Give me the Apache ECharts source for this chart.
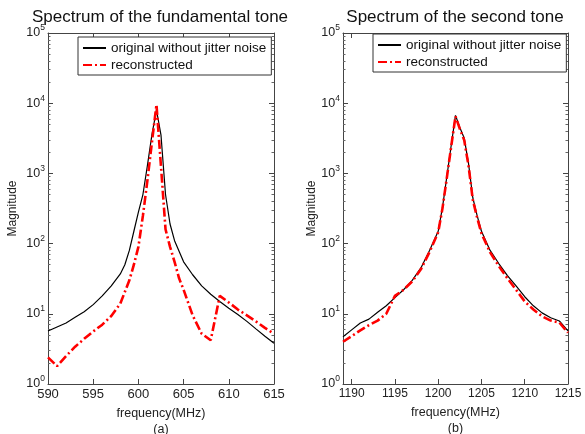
<!DOCTYPE html>
<html lang="en">
<head>
  <meta charset="UTF-8">
  <title>Spectrum</title>
  <script src="https://cdn.jsdelivr.net/npm/echarts@6/dist/echarts.min.js"></script>
  <style>
    html, body { margin: 0; padding: 0; background: #fff; }
    #chart { width: 585px; height: 434px; }
  </style>
</head>
<body>
  <div id="chart"></div>
<script>
  // (a) fundamental tone
  let freqA_orig = [590, 591, 592, 593, 594, 595, 596, 597, 598, 598.5, 599, 599.5, 600, 600.5, 601, 601.5, 602, 602.5, 603, 603.5, 604, 605, 606, 607, 608, 609, 610, 611, 612, 613, 614, 615]
  let magA_orig = [5.7, 6.5, 7.4, 8.9, 10.7, 13.5, 18, 25, 37, 50, 80, 150, 280, 500, 1300, 3600, 8000, 3500, 500, 190, 110, 55, 36, 25, 19, 15, 12, 9.8, 7.8, 6.1, 4.8, 3.8]
  let freqA_rec = [590, 591, 592, 593, 594, 595, 596, 597, 598, 599, 599.5, 600, 600.5, 601, 601.5, 602, 602.5, 603, 603.5, 604, 604.5, 605, 606, 607, 608, 609, 610, 611, 612, 613, 614, 615]
  let magA_rec = [2.4, 1.8, 2.5, 3.4, 4.4, 5.6, 7.0, 9.3, 14, 30, 50, 90, 250, 800, 2800, 9500, 1250, 160, 90, 55, 32, 22, 9.5, 5.2, 4.2, 18, 14.5, 11.5, 9.5, 7.8, 6.3, 5.2]

  // (b) second tone
  let freqB_orig = [1189, 1190, 1191, 1192, 1193, 1194, 1195, 1196, 1197, 1198, 1199, 1200, 1200.5, 1201, 1201.5, 1202, 1202.5, 1203, 1203.5, 1204, 1204.5, 1205, 1206, 1207, 1208, 1209, 1210, 1211, 1212, 1213, 1214, 1215]
  let magB_orig = [4.7, 5.9, 7.4, 8.4, 10.5, 13, 17, 22, 30, 45, 80, 150, 330, 900, 2500, 6700, 4500, 3200, 1400, 450, 250, 150, 80, 52, 35, 25, 17.5, 13, 10.3, 8.8, 7.9, 5.7]
  let freqB_rec = [1189, 1190, 1191, 1192, 1193, 1194, 1195, 1196, 1197, 1198, 1199, 1200, 1200.5, 1201, 1201.5, 1202, 1202.5, 1203, 1203.5, 1204, 1204.5, 1205, 1206, 1207, 1208, 1209, 1210, 1211, 1212, 1213, 1214, 1215]
  let magB_rec = [4.0, 4.8, 5.8, 6.9, 8.0, 10, 18, 22, 29, 43, 76, 145, 320, 870, 2400, 6500, 4300, 3000, 1300, 420, 235, 140, 75, 48, 32, 22, 15, 11.5, 9.2, 8.0, 7.5, 5.4]

  let ticksA = [590, 595, 600, 605, 610, 615]
  let ticksB = [1190, 1195, 1200, 1205, 1210, 1215]

  let names = ['original without jitter noise', 'reconstructed']
  let titles = ['Spectrum of the fundamental tone', 'Spectrum of the second tone']
  let captions = ['(a)', '(b)']

  function pairs(xs, ys) {
    return xs.map((x, i) => [x, ys[i]])
  }

  const FONT = '"Liberation Sans", Arial, sans-serif'
  const AXIS_COLOR = '#444'

  function xAxes(gi, min, max, ticks, labelSize) {
    let base = {
      type: 'value', gridIndex: gi, min: min, max: max,
      splitLine: { show: false },
      axisLine: { lineStyle: { color: AXIS_COLOR, width: 1 } },
      axisTick: { inside: true, length: 5, customValues: ticks, lineStyle: { color: AXIS_COLOR } }
    }
    return [
      Object.assign({}, base, {
        position: 'bottom',
        axisLabel: {
          customValues: ticks, color: '#222', fontSize: labelSize, fontFamily: FONT, margin: 4,
          formatter: v => String(v)
        },
        name: 'frequency(MHz)\n' + captions[gi],
        nameLocation: 'middle', nameGap: 19,
        nameTextStyle: { color: '#222', fontSize: 12.5, fontFamily: FONT, lineHeight: 16, verticalAlign: 'top' }
      }),
      Object.assign({}, base, { position: 'top', axisLabel: { show: false } })
    ]
  }

  function yAxes(gi, nameGap) {
    let base = {
      type: 'log', logBase: 10, gridIndex: gi, min: 1, max: 100000,
      splitLine: { show: false },
      axisLine: { lineStyle: { color: AXIS_COLOR, width: 1 } },
      axisTick: { inside: true, length: 5, lineStyle: { color: AXIS_COLOR } },
      minorTick: { show: true, splitNumber: 9, length: 2.5, lineStyle: { color: '#666' } }
    }
    return [
      Object.assign({}, base, {
        position: 'left',
        axisLabel: {
          color: '#222', fontFamily: FONT, margin: 3,
          formatter: v => '{b|10}{s|' + Math.round(Math.log10(v)) + '}',
          rich: {
            b: { fontSize: 12.5, fontFamily: FONT, color: '#222' },
            s: { fontSize: 8.5, fontFamily: FONT, color: '#222', padding: [0, 0, 10, 0] }
          }
        },
        name: 'Magnitude', nameLocation: 'middle', nameGap: nameGap,
        nameTextStyle: { color: '#222', fontSize: 12, fontFamily: FONT }
      }),
      Object.assign({}, base, { position: 'right', axisLabel: { show: false } })
    ]
  }

  function line(name, data, xi, yi, red) {
    return {
      type: 'line', name: name, data: data,
      xAxisIndex: xi, yAxisIndex: yi,
      symbol: 'none', smooth: false,
      lineStyle: red
        ? { color: '#ff0000', width: 2.6, type: [9, 3, 2, 3] }
        : { color: '#000', width: 1.2 },
      itemStyle: { color: red ? '#ff0000' : '#000' },
      z: red ? 3 : 2
    }
  }

  function legend(left, top) {
    return {
      data: names, orient: 'vertical', left: left, top: top,
      borderColor: '#333', borderWidth: 1, borderRadius: 0,
      padding: [4, 5, 3, 4], itemGap: 3, itemWidth: 23, itemHeight: 10,
      backgroundColor: '#fff',
      itemStyle: { opacity: 0 },
      textStyle: { color: '#111', fontSize: 13.5, fontFamily: FONT }
    }
  }

  let chart = echarts.init(document.getElementById('chart'))
  chart.setOption({
    animation: false,
    backgroundColor: '#fff',
    title: [
      { text: titles[0], left: 155, top: 4, textAlign: 'center', textStyle: { fontSize: 17, fontWeight: 'normal', color: '#111', fontFamily: FONT } },
      { text: titles[1], left: 450, top: 4, textAlign: 'center', textStyle: { fontSize: 17, fontWeight: 'normal', color: '#111', fontFamily: FONT } }
    ],
    legend: [legend(78, 37), legend(373, 34)],
    grid: [
      { left: 48, top: 33, width: 226, height: 351, outerBoundsMode: 'none' },
      { left: 343, top: 33, width: 225, height: 351, outerBoundsMode: 'none' }
    ],
    xAxis: xAxes(0, 590, 615, ticksA, 13).concat(xAxes(1, 1189, 1215, ticksB, 12)),
    yAxis: yAxes(0, 29).concat(yAxes(1, 24)),
    series: [
      line(names[0], pairs(freqA_orig, magA_orig), 0, 0, false),
      line(names[1], pairs(freqA_rec, magA_rec), 0, 0, true),
      line(names[0], pairs(freqB_orig, magB_orig), 2, 2, false),
      line(names[1], pairs(freqB_rec, magB_rec), 2, 2, true)
    ]
  })
</script>
</body>
</html>
